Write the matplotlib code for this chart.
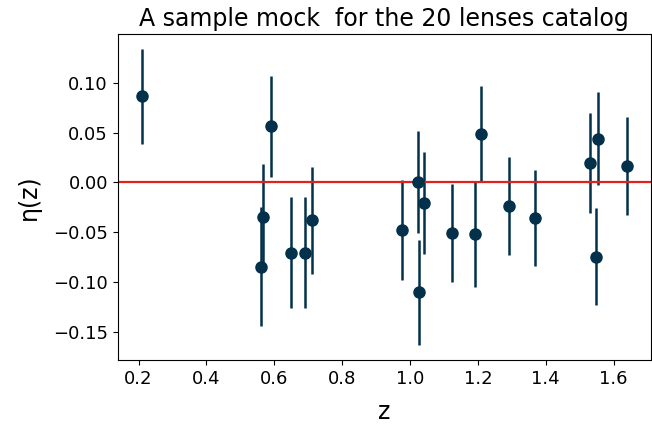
import numpy as np
import matplotlib
matplotlib.use('Agg')
import matplotlib.pyplot as plt

# redshift of each lens
z = [0.21, 0.562, 0.566, 0.589, 0.650, 0.692, 0.710,
     0.976, 1.024, 1.026, 1.041, 1.124, 1.192, 1.208,
     1.293, 1.369, 1.532, 1.553, 1.549, 1.639]
# eta(z) values and errors
eta = [0.0865, -0.0845, -0.0350, 0.0563, -0.0705, -0.0705, -0.0382,
       -0.0480, 0.0003, -0.1105, -0.0205, -0.0510, -0.0520, 0.0485,
       -0.0235, -0.0358, 0.0194, 0.0439, -0.0746, 0.0168]
eta_err = [0.0475, 0.0595, 0.0540, 0.0510, 0.0555, 0.0555, 0.0540,
           0.0505, 0.0510, 0.0530, 0.0510, 0.0490, 0.0535, 0.0485,
           0.0495, 0.0480, 0.0500, 0.0468, 0.0487, 0.0495]

fig = plt.figure(figsize=(6.52, 4.30), dpi=100)
ax = fig.add_axes([0.1805, 0.163, 0.818, 0.757])

ax.errorbar(z, eta, yerr=eta_err, fmt='o', color='#03304a', ecolor='#03304a',
            markersize=8, elinewidth=1.8, capsize=0)
ax.axhline(0, color='#e3201c', linewidth=1.6)

ax.set_title('A sample mock  for the 20 lenses catalog', fontsize=17)
ax.set_xlabel('z', fontsize=17, labelpad=9)
ax.set_ylabel('η(z)', fontsize=17, labelpad=9)
ax.tick_params(labelsize=13)
ax.set_yticks([-0.15, -0.10, -0.05, 0.00, 0.05, 0.10])
ax.set_xticks([0.2, 0.4, 0.6, 0.8, 1.0, 1.2, 1.4, 1.6])

fig.savefig('out.png', dpi=100)
